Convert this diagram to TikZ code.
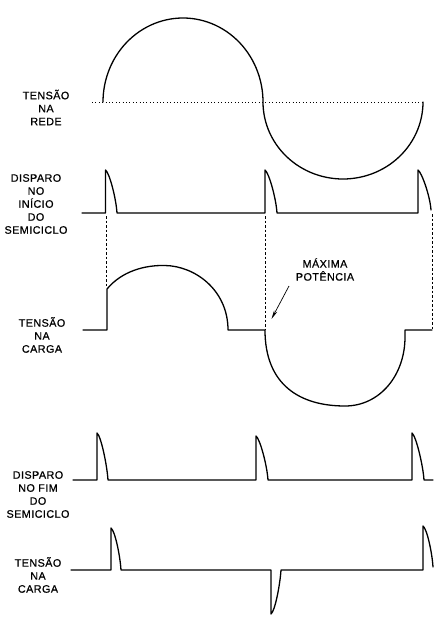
\documentclass[tikz,border=0pt]{standalone}
\usepackage{fontspec}
\setmainfont{Liberation Sans}[LetterSpace=4,FakeBold=0.6]
\usetikzlibrary{arrows.meta}
\tikzset{
  wave/.style={line width=1.3pt, line join=round, line cap=round},
  guide/.style={line width=0.6pt, dash pattern=on 2.5pt off 2pt},
  zeroline/.style={line width=0.8pt, dash pattern=on 0.8pt off 2.6pt},
  lbl/.style={align=center, font=\fontsize{10.8}{13}\selectfont, inner sep=0pt},
  pointer/.style={line width=0.7pt, -{Stealth[length=9pt,width=3.5pt]}}
}
\begin{document}
\begin{tikzpicture}[x=1pt,y=-1pt]
\useasboundingbox (0,0) rectangle (444,627);
\fill[white] (0,0) rectangle (444,627);

% mains voltage
\draw[zeroline] (92,102) -- (423,102);
\draw[wave] plot[domain=180:360,samples=61] ({183+80*cos(\x)},{102+84*sin(\x)})
  -- plot[domain=0:180,samples=61] ({343-80*cos(\x)},{102+77*sin(\x)});

% trigger at start of half-cycle
\draw[wave] (82,213) -- (105.5,213) -- (105.5,170)
  .. controls (109.5,173) and (116,198) .. (117,213) -- (265,213) -- (265,170)
  .. controls (269,173) and (276,198) .. (277,213) -- (418,213) -- (418,170)
  .. controls (422,173) and (430,196) .. (431,210);

% guides
\draw[guide] (106,216) -- (106,287);
\draw[guide] (265,216) -- (265,329);
\draw[guide] (432,214) -- (432,329);

% load voltage (middle)
\draw[wave] (83,330) -- (107,330) -- (107,289)
  .. controls (122,271) and (145,265) .. (165,265.5)
  .. controls (195,266) and (228,290) .. (228,330)
  -- (265,330)
  .. controls (265,385) and (300,406) .. (345,406)
  .. controls (380,406) and (405,375) .. (405,337)
  -- (405,330) -- (432,330);

% trigger at end of half-cycle
\draw[wave] (73,480) -- (97,480) -- (97,433)
  .. controls (101,436) and (107,465) .. (108,480) -- (256,480) -- (256,436)
  .. controls (260,439) and (267,465) .. (268,480) -- (412,480) -- (412,433)
  .. controls (416,436) and (423,465) .. (424,480) -- (433,480);

% load voltage (bottom)
\draw[wave] (71,570) -- (111,570) -- (111,528)
  .. controls (115,531) and (120,555) .. (121,570) -- (271,570) -- (271,614)
  .. controls (275,611) and (280,585) .. (281,570) -- (423,570) -- (423,526)
  .. controls (427,529) and (432,552) .. (433,567);

% labels
\node[lbl] (rede) at (46,107.5) {TENSÃO\\NA\\REDE};
\node[lbl] (dispini) at (36,204) {DISPARO\\NO\\INÍCIO\\DO\\SEMICICLO};
\node[lbl] (carga1) at (42,335) {TENSÃO\\NA\\CARGA};
\node[lbl] (maxpot) at (325,269.5) {MÁXIMA\\POTÊNCIA};
\node[lbl] (dispfim) at (38,494.5) {DISPARO\\NO FIM\\DO\\SEMICICLO};
\node[lbl] (carga2) at (38,575) {TENSÃO\\NA\\CARGA};

\coordinate (arrS) at (289,286);
\coordinate (arrE) at (271.5,319);
\draw[pointer] (arrS) -- (arrE);
\end{tikzpicture}
\end{document}
